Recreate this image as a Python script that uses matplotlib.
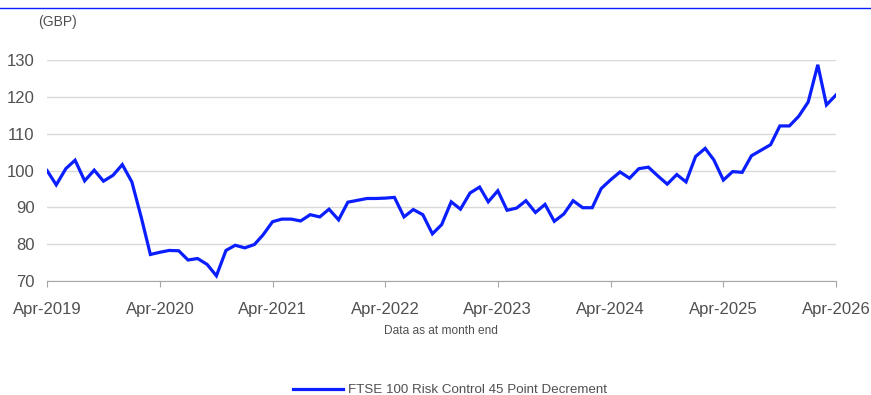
import numpy as np
import pandas as pd
import matplotlib
matplotlib.use("Agg")
import matplotlib.pyplot as plt
import matplotlib.dates as mdates

plt.rcParams['font.family'] = ['Liberation Sans', 'DejaVu Sans']

# month-end index levels, Apr-2019 .. Apr-2026
levels = [
    100.0, 96.1, 100.5, 102.8, 97.2, 100.1, 97.1, 98.7, 101.6, 96.9,
    87.1, 77.2, 77.8, 78.3, 78.2, 75.7, 76.1, 74.5, 71.4, 78.3,
    79.7, 79.0, 79.9, 82.5, 86.1, 86.8, 86.8, 86.3, 88.0, 87.4,
    89.5, 86.6, 91.4, 91.9, 92.4, 92.4, 92.5, 92.7, 87.4, 89.4,
    88.0, 82.8, 85.3, 91.5, 89.5, 93.9, 95.5, 91.5, 94.5, 89.2,
    89.8, 91.8, 88.6, 90.8, 86.2, 88.2, 91.8, 89.9, 89.9, 95.1,
    97.5, 99.6, 97.9, 100.5, 100.9, 98.5, 96.3, 98.9, 96.9, 103.8,
    106.0, 102.9, 97.4, 99.7, 99.5, 104.0, 105.5, 107.0, 112.1, 112.1,
    114.7, 118.6, 128.7, 117.8, 120.5,
]
dates = pd.date_range("2019-04-01", periods=len(levels), freq="MS")
series_name = "FTSE 100 Risk Control 45 Point Decrement"
yticks = [70, 80, 90, 100, 110, 120, 130]

txt = "#505050"
blue = "#0A1EFF"

fig = plt.figure(figsize=(8.71, 3.95), dpi=100)
ax = fig.add_axes([47 / 871, 114 / 395, 789 / 871, 221 / 395])

line, = ax.plot(dates, levels, color=blue, lw=2.3, label=series_name,
                solid_joinstyle="miter")

ax.set_xlim(dates[0], dates[-1])
ax.set_ylim(70, 130)
ax.set_yticks(yticks)
ax.grid(axis="y", color="#d9d9d9", lw=1)
ax.set_axisbelow(True)

ax.xaxis.set_major_locator(mdates.MonthLocator(bymonth=4))
ax.xaxis.set_major_formatter(mdates.DateFormatter("%b-%Y"))

for s in ["top", "right", "left"]:
    ax.spines[s].set_visible(False)
ax.spines["bottom"].set_color("#a6a6a6")
ax.tick_params(axis="x", length=4, color="#a6a6a6", labelsize=12,
               labelcolor=txt, pad=11)
ax.tick_params(axis="y", length=0, labelsize=12, labelcolor=txt, pad=9)

fig.text(38 / 871, 1 - 22 / 395, "(GBP)", fontsize=10, color=txt,
         ha="left", va="center")
fig.text(441 / 871, 1 - 331 / 395, "Data as at month end", fontsize=8.6,
         color=txt, ha="center", va="center")

fig.legend(handles=[line], loc="center", bbox_to_anchor=(450 / 871, 1 - 390 / 395),
           frameon=False, fontsize=9.6, labelcolor=txt, handlelength=3.7,
           handletextpad=0.4)

# thin rule across the top of the figure
fig.add_artist(plt.Line2D([0, 1], [1 - 8 / 395, 1 - 8 / 395],
                          transform=fig.transFigure, color=blue, lw=1))

fig.savefig("out.png", dpi=100)
